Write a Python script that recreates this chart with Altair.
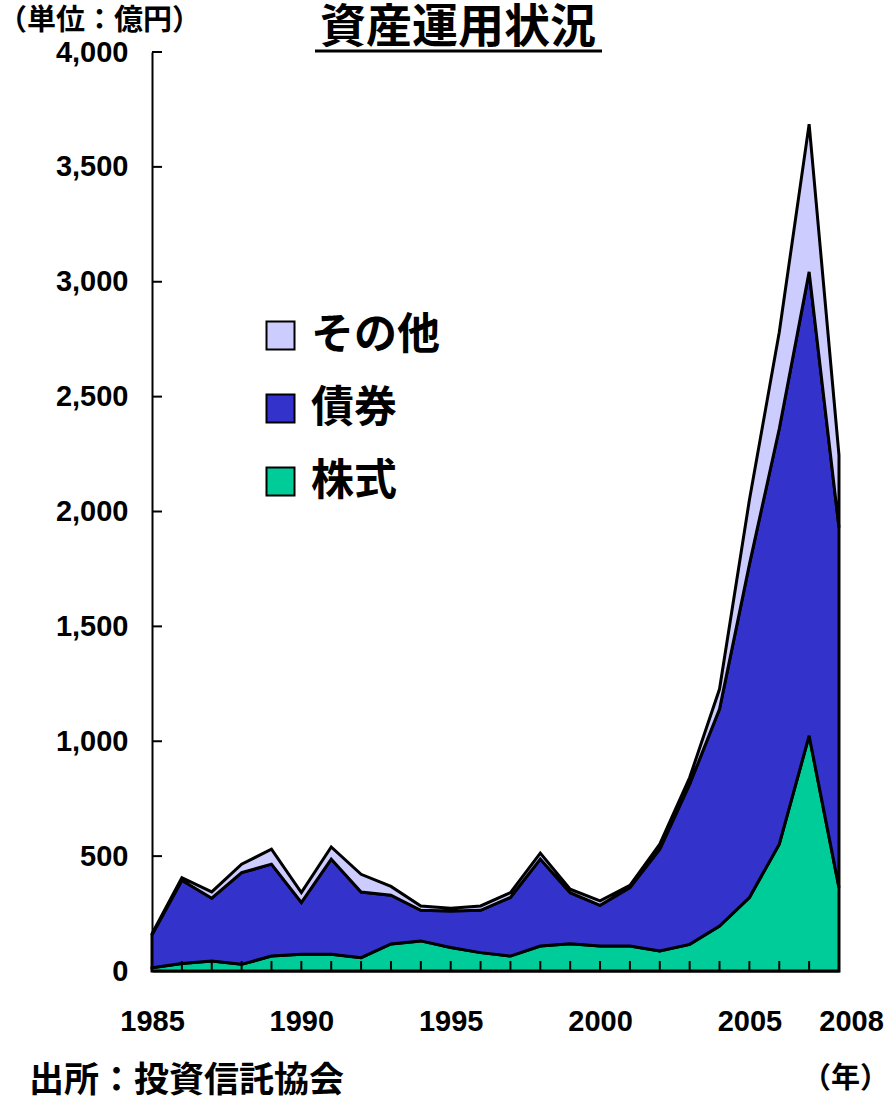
import altair as alt
import pandas as pd

years = list(range(1985, 2009))
# 株式 (stocks)
stocks = [14, 33, 44, 29, 65, 73, 73, 58, 118, 131, 102, 80, 65, 109, 119, 109, 109, 87, 116, 196, 320, 552, 1024, 363]
# 債券 (bonds)
bonds = [144, 362, 273, 399, 400, 225, 414, 286, 212, 133, 159, 184, 255, 378, 222, 177, 254, 443, 697, 944, 1450, 1808, 2019, 1567]
# その他 (others)
others = [4, 11, 27, 37, 65, 43, 53, 77, 38, 19, 12, 19, 21, 26, 15, 19, 10, 22, 29, 87, 280, 420, 643, 314]

categories = ["その他", "債券", "株式"]
colors = ["#CCCCFF", "#3333CC", "#00CC99"]
stack_order = {"株式": 0, "債券": 1, "その他": 2}

x_label_years = [1985, 1990, 1995, 2000, 2005, 2008]
y_tick_values = [0, 500, 1000, 1500, 2000, 2500, 3000, 3500, 4000]

rows = []
for i, yr in enumerate(years):
    for cat, series in (("株式", stocks), ("債券", bonds), ("その他", others)):
        rows.append({"year": yr, "cat": cat, "value": series[i], "ord": stack_order[cat]})
df = pd.DataFrame(rows)

W, H = 687, 919
JP = "Noto Sans CJK JP"
NUM = "Liberation Sans"

xscale = alt.Scale(domain=[1985, 2008], nice=False, zero=False)
yscale = alt.Scale(domain=[0, 4000], nice=False)

areas = alt.Chart(df).mark_area(stroke="black", strokeWidth=3, strokeJoin="miter").encode(
    x=alt.X("year:Q", scale=xscale,
            axis=alt.Axis(values=x_label_years, format="d", labelFont=NUM, labelFontSize=29,
                          labelFontWeight="bold", labelColor="black", ticks=False, tickSize=0,
                          labelPadding=36, domainColor="black", domainWidth=2, grid=False,
                          labelFlush=False, labelOverlap=False,
                          labelOffset={"condition": {"test": "datum.value == 2008", "value": 12}, "value": 0}),
            title=None),
    y=alt.Y("value:Q", stack="zero", scale=yscale,
            axis=alt.Axis(values=y_tick_values, format=",d", labelFont=NUM, labelFontSize=29,
                          labelFontWeight="bold", labelColor="black", ticks=False, tickSize=0,
                          labelPadding=24, domainColor="black", domainWidth=2, grid=False),
            title=None),
    color=alt.Color("cat:N", scale=alt.Scale(domain=categories, range=colors),
                    legend=alt.Legend(orient="none", legendX=107, legendY=262,
                                      labelFont=JP, labelFontSize=43, labelFontWeight="bold",
                                      labelColor="black", symbolType="square", symbolSize=784,
                                      symbolStrokeColor="black", symbolStrokeWidth=2,
                                      rowPadding=29, labelOffset=9, labelLimit=400),
                    title=None),
    order=alt.Order("ord:Q", sort="ascending"),
)

xt = pd.DataFrame({"yr": years})
x_ticks = alt.Chart(xt).mark_rule(color="black", strokeWidth=2).encode(
    x=alt.X("yr:Q", scale=xscale), y=alt.value(H), y2=alt.value(H - 10)
)
yt = pd.DataFrame({"v": y_tick_values})
y_ticks = alt.Chart(yt).mark_rule(color="black", strokeWidth=2).encode(
    y=alt.Y("v:Q", scale=yscale), x=alt.value(0), x2=alt.value(10)
)

def label(text, x, y, size, align="left"):
    return alt.Chart(pd.DataFrame({"t": [text]})).mark_text(
        font=JP, fontSize=size, fontWeight="bold", color="black", align=align, baseline="middle"
    ).encode(text="t:N", x=alt.value(x), y=alt.value(y))

title = label("資産運用状況", 306, -24, 46, "center")
underline = alt.Chart(pd.DataFrame({"a": [0]})).mark_rule(color="black", strokeWidth=3).encode(
    x=alt.value(163), x2=alt.value(450), y=alt.value(-1)
)
unit = label("（単位：億円）", -154, -31, 29)
source = label("出所：投資信託協会", -123, 1029, 35)
nen = label("（年）", 650, 1027, 29)

chart = alt.layer(areas, x_ticks, y_ticks, title, underline, unit, source, nen).properties(
    width=W, height=H,
    autosize=alt.AutoSizeParams(type="none"),
    padding={"left": 152, "top": 52, "right": 50, "bottom": 129},
).configure_view(strokeWidth=0)

chart.save("out.html", embed_options={"renderer": "svg", "actions": False})
